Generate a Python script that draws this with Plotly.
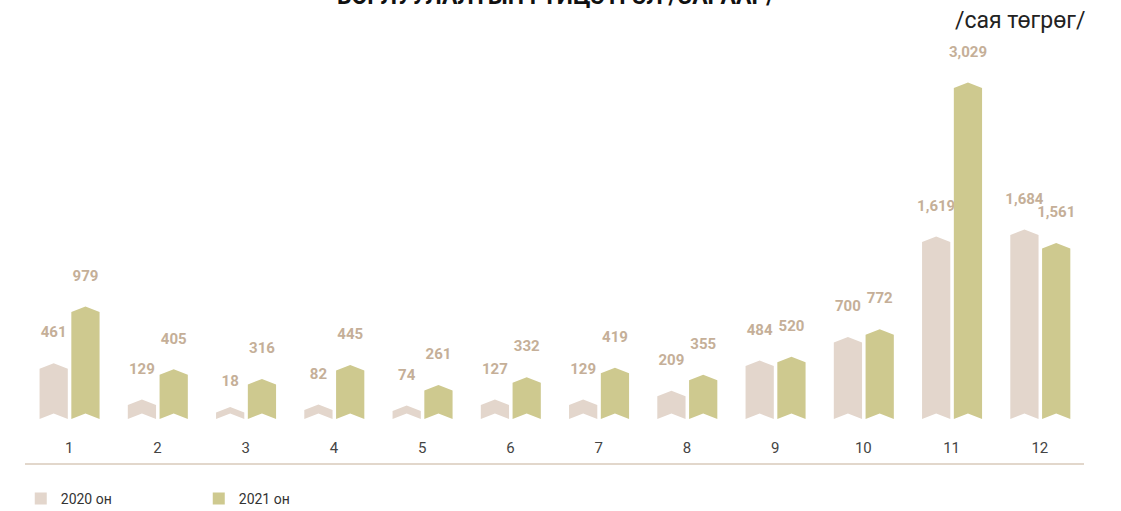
import plotly.graph_objects as go

months = ["1", "2", "3", "4", "5", "6", "7", "8", "9", "10", "11", "12"]
sales_2020 = [461, 129, 18, 82, 74, 127, 129, 209, 484, 700, 1619, 1684]
sales_2021 = [979, 405, 316, 445, 261, 332, 419, 355, 520, 772, 3029, 1561]
series_names = ["2020 он", "2021 он"]

title_text = "БОРЛУУЛАЛТЫН ГҮЙЦЭТГЭЛ /САРААР/"
unit_text = "/сая төгрөг/"

colors = ["#E3D6CC", "#CEC98F"]
label_color = "#C5AF98"

# layout geometry
Y_MAX = 3560
PLOT_H = 389
UPP = Y_MAX / PLOT_H          # data units per pixel
NOTCH = 5.5 * UPP             # chevron depth
MIN_H = 6.5 * UPP
LABEL_OFF = 35 * UPP
OFFSETS = [-0.175, 0.185]
HALF_W = 0.16

fig = go.Figure()

for s, (vals, name, col) in enumerate(zip([sales_2020, sales_2021], series_names, colors)):
    for i, v in enumerate(vals):
        xc = i + 1 + OFFSETS[s]
        x0, x1 = xc - HALF_W, xc + HALF_W
        h = max(v, MIN_H)
        fig.add_trace(go.Scatter(
            x=[x0, xc, x1, x1, xc, x0, x0],
            y=[0, NOTCH, 0, h, h + NOTCH, h, 0],
            mode="lines", fill="toself", fillcolor=col,
            line=dict(width=0, color=col),
            showlegend=False, hoverinfo="skip",
        ))
    # labels
    fig.add_trace(go.Scatter(
        x=[i + 1 + OFFSETS[s] for i in range(len(vals))],
        y=[v + LABEL_OFF for v in vals],
        mode="text", text=[f"{v:,}" for v in vals],
        textposition="middle center",
        textfont=dict(family="Roboto", size=15, color=label_color, weight="bold"),
        showlegend=False, hoverinfo="skip",
    ))
    # legend entry
    fig.add_trace(go.Scatter(
        x=[None], y=[None], mode="markers", name=name,
        marker=dict(symbol="square", size=12, color=col),
    ))

fig.add_shape(type="line", xref="paper", yref="paper", x0=0, x1=1,
              y0=-0.1157, y1=-0.1157, line=dict(color="#C5AF98", width=1))

fig.add_annotation(text=title_text, xref="paper", yref="paper", x=0.5014, y=1.0874,
                   xanchor="center", yanchor="middle", showarrow=False,
                   font=dict(family="Roboto", size=23, color="#111", weight="bold"))
fig.add_annotation(text=unit_text, xref="paper", yref="paper", x=1.003, y=1.025,
                   xanchor="right", yanchor="middle", showarrow=False,
                   font=dict(family="Roboto", size=23, color="#222"))

fig.update_layout(
    width=1121, height=511,
    margin=dict(l=25, r=37, t=30, b=92),
    paper_bgcolor="white", plot_bgcolor="white",
    xaxis=dict(range=[0.5, 12.5], tickvals=list(range(1, 13)), ticktext=months,
               showgrid=False, zeroline=False, showline=False,
               ticks="outside", ticklen=15, tickcolor="rgba(0,0,0,0)",
               tickfont=dict(family="Roboto", size=15, color="#444")),
    yaxis=dict(range=[0, Y_MAX], visible=False, showgrid=False, zeroline=False),
    legend=dict(orientation="h", x=-0.004, xanchor="left",
                yref="container", y=1 - 499 / 511, yanchor="middle",
                entrywidth=133, entrywidthmode="pixels",
                font=dict(family="Roboto", size=14, color="#333")),
    showlegend=True,
)

fig.write_html("out.html", config={"displayModeBar": False},
               post_script="document.body.style.margin='0';")
